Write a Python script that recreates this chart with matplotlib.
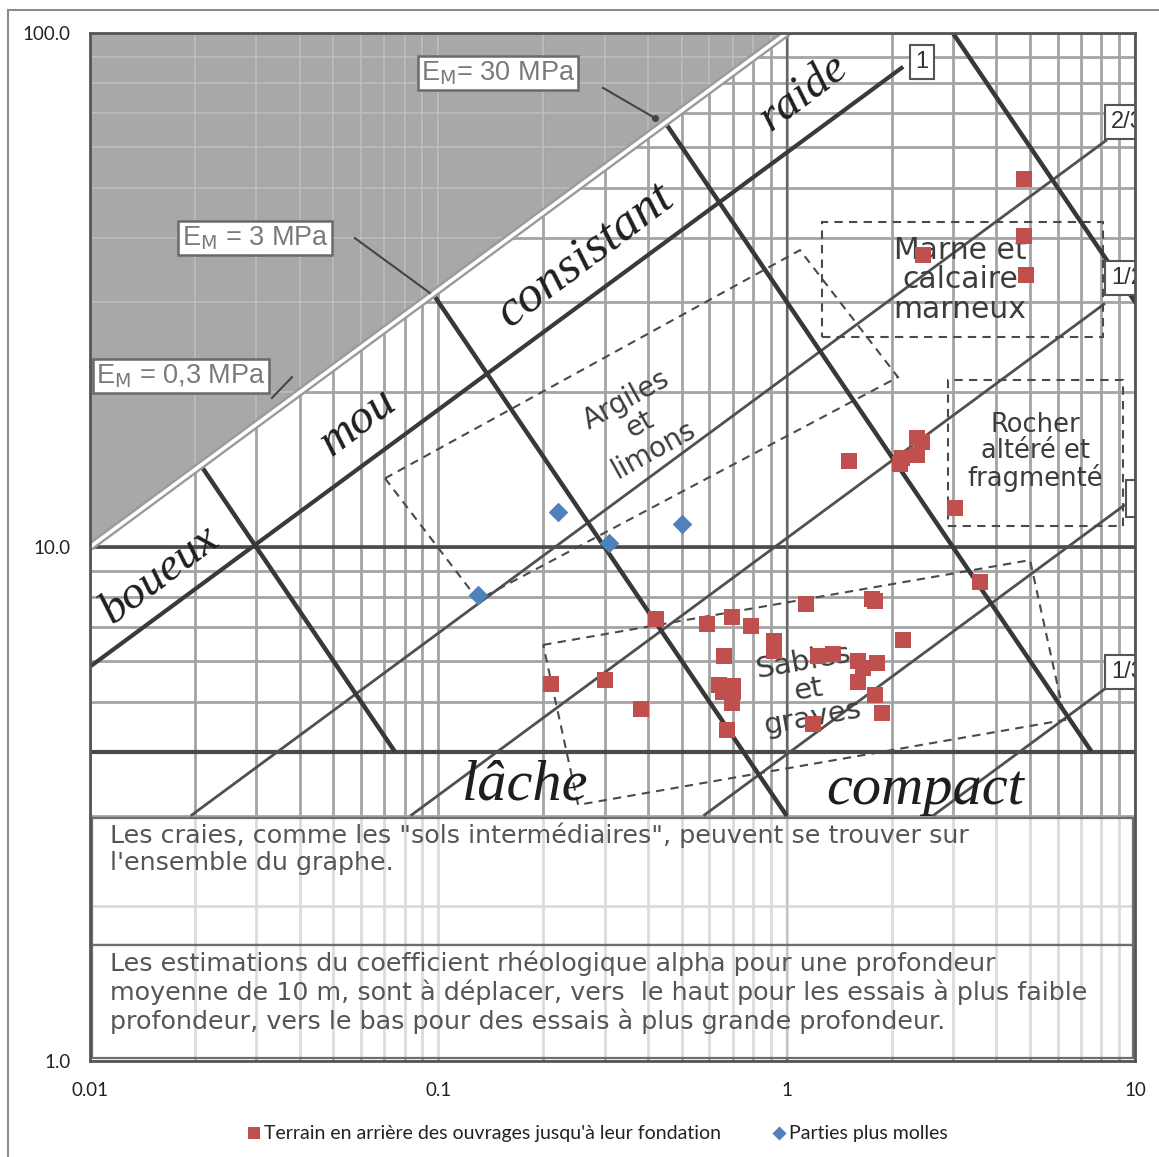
import numpy as np
import matplotlib
matplotlib.use("Agg")
import matplotlib.pyplot as plt
from matplotlib.patches import Polygon, Rectangle
from matplotlib.lines import Line2D
from matplotlib.ticker import FixedLocator, NullFormatter, NullLocator, FixedFormatter

plt.rcParams['font.family'] = ['Lato', 'DejaVu Sans']

# ---------------- measured points ----------------
terrain_x = [4.81, 4.81, 2.47, 4.85, 1.51, 2.36, 2.44, 2.36, 2.15, 2.12,
             3.04, 3.59, 0.421, 0.589, 0.695, 0.790, 1.134, 1.754, 1.793, 2.16,
             0.922, 0.922, 0.662, 1.228, 1.361, 1.606, 1.821, 1.660, 1.606, 1.793,
             1.874, 1.193, 0.641, 0.700, 0.658, 0.703, 0.695, 0.673, 0.211, 0.301,
             0.382]
terrain_y = [51.9, 40.2, 37.0, 33.8, 14.7, 16.3, 16.0, 15.1, 14.9, 14.5,
             11.9, 8.56, 7.23, 7.07, 7.30, 7.03, 7.74, 7.91, 7.86, 6.59,
             6.56, 6.28, 6.14, 6.14, 6.19, 6.00, 5.96, 5.81, 5.45, 5.15,
             4.75, 4.53, 5.39, 5.37, 5.23, 5.23, 4.98, 4.41, 5.41, 5.51,
             4.84]
molles_x = [0.220, 0.500, 0.309, 0.130]
molles_y = [11.7, 11.1, 10.2, 8.07]

series_labels = ["Terrain en arrière des ouvrages jusqu'à leur fondation",
                 "Parties plus molles"]

x_ticks = [0.01, 0.1, 1, 10]
x_labels = ["0.01", "0.1", "1", "10"]
y_ticks = [1, 10, 100]
y_labels = ["1.0", "10.0", "100.0"]

# ---------------- Ménard classification background ----------------
upper_c = 100.0                        # upper limit: y = 100 * sqrt(x)
em_values = [0.3, 3, 30, 300]          # E_M iso-lines (MPa): y = E_M / x
em_yend = [4, 3, 4, 4]
em_labels = [r"E$_\mathrm{M}$ = 0,3 MPa", r"E$_\mathrm{M}$ = 3 MPa",
             r"E$_\mathrm{M}$= 30 MPa"]
alpha_coeffs = [58.5, 21.5, 10.4, 3.95, 1.85]   # y = c * sqrt(x)
alpha_xend = [2.16, 8.31, 8.20, 9.36, 8.65]
alpha_labels = ["1", "2/3", "1/2", "1/3"]

argiles_box = [(0.0703, 13.6), (1.092, 37.8), (2.087, 21.4), (0.130, 7.89)]
sables_box = [(0.200, 6.45), (4.996, 9.43), (6.30, 4.61), (0.252, 3.15)]
marne_box = [(1.263, 25.6), (8.09, 25.6), (8.09, 42.9), (1.263, 42.9)]
rocher_box = [(2.905, 11.0), (9.24, 11.0), (9.24, 21.1), (2.905, 21.1)]

note_1 = ("Les craies, comme les \"sols intermédiaires\", peuvent se trouver sur\n"
          "l'ensemble du graphe.")
note_2 = ("Les estimations du coefficient rhéologique alpha pour une profondeur\n"
          "moyenne de 10 m, sont à déplacer, vers  le haut pour les essais à plus faible\n"
          "profondeur, vers le bas pour des essais à plus grande profondeur.")

fig = plt.figure(figsize=(11.59, 11.57), dpi=100)
ax = fig.add_axes([0.07765, 0.08298, 0.90164, 0.88850])
ax.set_xscale('log')
ax.set_yscale('log')
ax.set_xlim(0.01, 10)
ax.set_ylim(1, 100)

# grid of the chart
xs_grid = [m * 10.0 ** k for k in (-2, -1, 0) for m in range(1, 10)] + [10]
ys_grid = [m * 10.0 ** k for k in (0, 1) for m in range(1, 10)] + [100]
ax.vlines(xs_grid, 1, 100, colors='#a4a4a4', lw=2.0, zorder=2)
ax.hlines(ys_grid, 0.01, 10, colors='#a4a4a4', lw=2.0, zorder=2)

# shaded zone above the upper limit
gray = Polygon([(0.01, 10), (1, 100), (0.01, 100)], closed=True,
               facecolor='#a8a8a8', edgecolor='none', zorder=1)
ax.add_patch(gray)
for coll in (ax.vlines(xs_grid, 1, 100, colors='#bebebe', lw=1.2, zorder=2.2),
             ax.hlines(ys_grid, 0.01, 10, colors='#bebebe', lw=1.2, zorder=2.2)):
    coll.set_clip_path(gray)

ax.axhline(10, color='#4a4a4a', lw=2.6, zorder=3)
ax.axhline(4, color='#4a4a4a', lw=3.0, zorder=3)
ax.axvline(1, color='#666666', lw=1.6, zorder=3)

# alpha lines
for i, (c, xe) in enumerate(zip(alpha_coeffs, alpha_xend)):
    xs = (3.0 / c) ** 2
    ax.plot([xs, xe], [3.0, c * np.sqrt(xe)],
            color='#3a3a3a' if i == 0 else '#505050',
            lw=3.0 if i == 0 else 2.0, zorder=3.5, solid_capstyle='butt')

# E_M iso-lines
for E, ye in zip(em_values, em_yend):
    x0 = (E / upper_c) ** (2.0 / 3.0)
    ax.plot([x0, E / ye], [E / x0, ye], color='#383838', lw=3.2, zorder=3.8,
            solid_capstyle='butt')

# upper limit (double line)
ax.plot([0.01, 1], [upper_c * 0.1, upper_c], color='#9a9a9a', lw=6, zorder=4)
ax.plot([0.01, 1], [upper_c * 0.1, upper_c], color='white', lw=2.6, zorder=4.1)

# soil zones
for pts in (argiles_box, sables_box, marne_box, rocher_box):
    ax.add_patch(Polygon(pts, closed=True, fill=False, edgecolor='#4a4a4a',
                         lw=1.5, ls=(0, (4, 3)), zorder=3.6))

zone_kw = dict(color='#3c3c3c', ha='center', va='center', zorder=5,
               family=['DejaVu Sans'], linespacing=1.02)
ax.text(0.379, 17.3, "Argiles\net\nlimons", fontsize=20, rotation=29, **zone_kw)
ax.text(3.146, 33.1, "Marne et\ncalcaire\nmarneux", fontsize=21.5, **zone_kw)
ax.text(5.164, 15.3, "Rocher\naltéré et\nfragmenté", fontsize=18.5, **zone_kw)
ax.text(1.152, 5.27, "Sables\net\ngraves", fontsize=21, rotation=10, **zone_kw)

# consistency words
cur_kw = dict(family=['Liberation Serif', 'DejaVu Serif'], style='italic',
              color='#1e1e1e', ha='center', va='center', zorder=5,
              rotation_mode='anchor')
ax.text(0.0159, 8.82, "boueux", fontsize=34, rotation=37, **cur_kw)
ax.text(0.0588, 17.5, "mou", fontsize=35, rotation=37, **cur_kw)
ax.text(0.2637, 37.0, "consistant", fontsize=37, rotation=37, **cur_kw)
ax.text(1.114, 76.4, "raide", fontsize=34, rotation=37, **cur_kw)
ax.text(0.1774, 3.44, "lâche", fontsize=42, **cur_kw)
ax.text(2.496, 3.37, "compact", fontsize=42, **cur_kw)

# E_M labels and leaders
em_kw = dict(family=['Liberation Sans', 'DejaVu Sans'],
             color='#7a7a7a', ha='center', va='center', fontsize=19.5, zorder=6,
             bbox=dict(boxstyle='square,pad=0.12', facecolor='white',
                       edgecolor='#6a6a6a', lw=1.8))
ax.text(0.01825, 21.5, em_labels[0], **em_kw)
ax.text(0.02977, 39.9, em_labels[1], **em_kw)
ax.text(0.1484, 83.6, em_labels[2], **em_kw)
ax.plot([0.038, 0.0333], [21.4, 19.5], color='#444', lw=1.5, zorder=5)
ax.plot([0.0576, 0.0946], [39.9, 31.2], color='#444', lw=1.5, zorder=5)
ax.plot([0.297, 0.419], [78.2, 68.3], color='#444', lw=1.5, zorder=5)
ax.plot([0.419], [68.3], marker='o', ms=4, color='#444', zorder=5)

# alpha labels
a_kw = dict(family=['Liberation Sans', 'DejaVu Sans'], color='#333', fontsize=17,
            va='center', zorder=6, clip_on=True,
            bbox=dict(boxstyle='square,pad=0.25', facecolor='white',
                      edgecolor='#555', lw=1.5))
ax.text(2.446, 87.8, alpha_labels[0], ha='center', **a_kw)
ax.text(8.55, 67.1, alpha_labels[1], ha='left', **a_kw)
ax.text(8.55, 33.4, alpha_labels[2], ha='left', **a_kw)
ax.text(8.55, 5.71, alpha_labels[3], ha='left', **a_kw)
ax.add_patch(Rectangle((9.45, 11.44), 1.5, 2.06, facecolor='white',
                       edgecolor='#555', lw=1.5, zorder=6))

# note panels
for y0, h in ((0.1128, 0.1236), (0.003, 0.1098)):
    ax.add_patch(Rectangle((0.002, y0), 0.996, h, transform=ax.transAxes,
                           facecolor=(1, 1, 1, 0.62), edgecolor='#6e6e6e',
                           lw=1.6, zorder=6))
note_kw = dict(transform=ax.transAxes, ha='left', va='top', fontsize=18.3,
               color='#555555', family=['DejaVu Sans'],
               linespacing=1.17, zorder=7)
ax.text(0.0191, 0.2320, note_1, **note_kw)
ax.text(0.0191, 0.1070, note_2, **note_kw)

# series
h1 = ax.scatter(terrain_x, terrain_y, marker='s', s=144, color='#c0504d',
                linewidths=0, zorder=8)
h2 = ax.scatter(molles_x, molles_y, marker='D', s=100, color='#4f81bd',
                linewidths=0, zorder=8)

# axes styling
ax.xaxis.set_major_locator(FixedLocator(x_ticks))
ax.xaxis.set_major_formatter(FixedFormatter(x_labels))
ax.yaxis.set_major_locator(FixedLocator(y_ticks))
ax.yaxis.set_major_formatter(FixedFormatter(y_labels))
for axis in (ax.xaxis, ax.yaxis):
    axis.set_minor_locator(NullLocator())
    axis.set_minor_formatter(NullFormatter())
ax.tick_params(length=0, labelsize=13.5, colors='#222222')
ax.tick_params(axis='x', pad=15)
ax.tick_params(axis='y', pad=14)
for sp in ax.spines.values():
    sp.set_color('#555555')
    sp.set_linewidth(2)
    sp.set_zorder(9)

fig.legend([h1, h2], series_labels, loc='center', bbox_to_anchor=(0.510, 0.0207),
           ncol=2, frameon=False, fontsize=14, columnspacing=2.0,
           handletextpad=-0.5, markerscale=0.72, labelcolor='#222222')

# chart frame
fig.add_artist(Line2D([0.0069, 0.0069], [0, 0.99136], color='#8c8c8c', lw=1.5))
fig.add_artist(Line2D([0.0069, 1], [0.99136, 0.99136], color='#8c8c8c', lw=1.5))

fig.savefig("out.png", dpi=100)
